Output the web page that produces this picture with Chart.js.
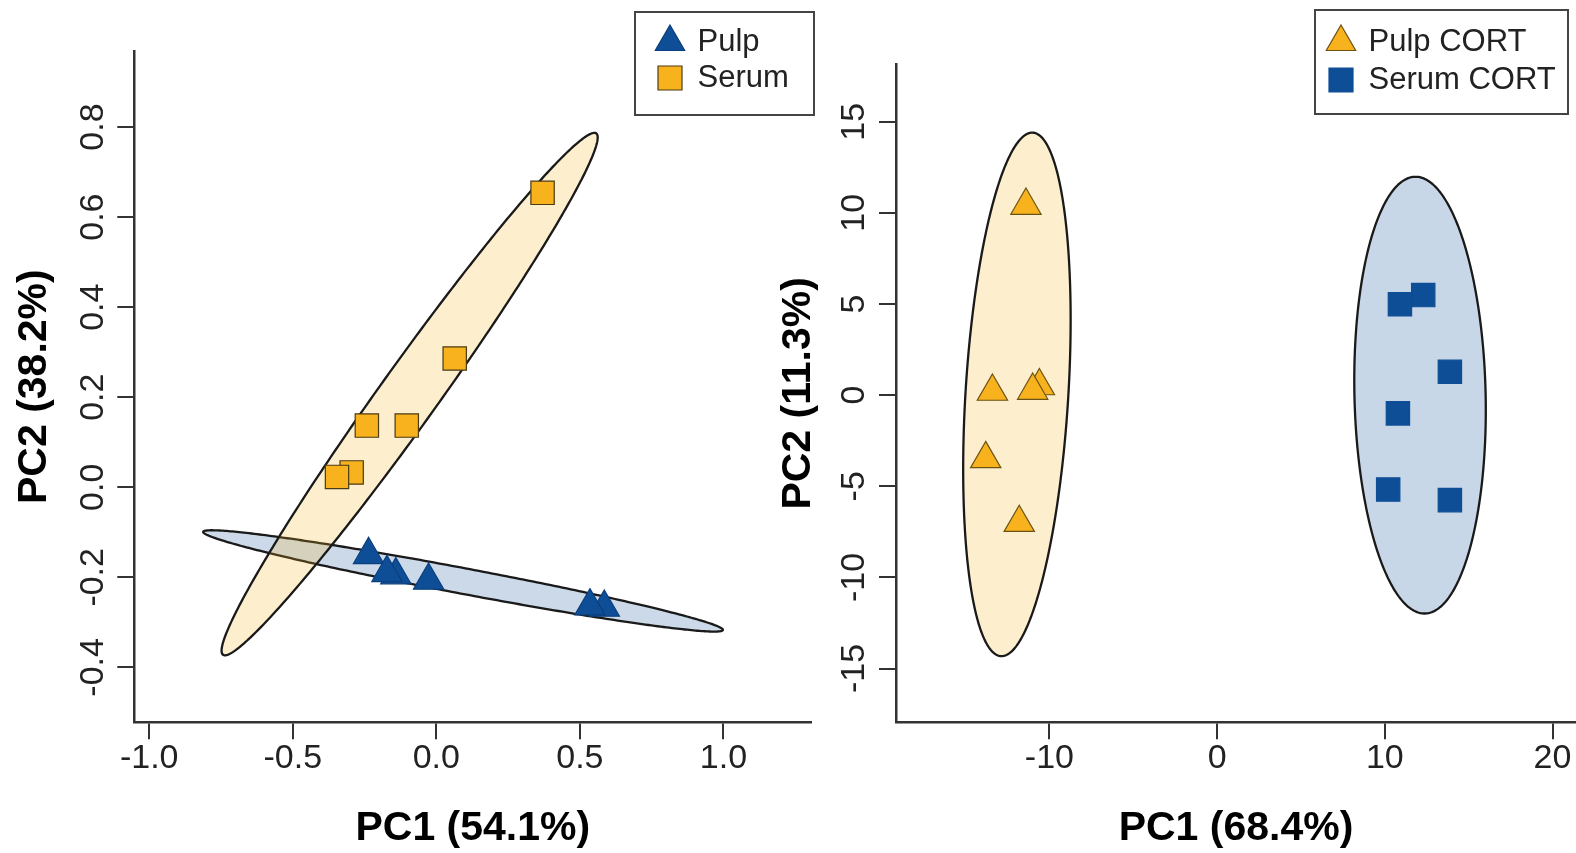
<!DOCTYPE html>
<html>
<head>
<meta charset="utf-8">
<script src="https://cdn.jsdelivr.net/npm/chart.js@4/dist/chart.umd.min.js"></script>
<style>
  html, body { margin: 0; padding: 0; background: #ffffff; overflow: hidden; }
  #wrap { position: relative; width: 1576px; height: 853px; overflow: hidden; background: #ffffff; }
  #c1 { position: absolute; left: 0; top: 0; }
  #c2 { position: absolute; left: 770px; top: 0; }
</style>
</head>
<body>
<div id="wrap">
  <canvas id="c1" width="830" height="853"></canvas>
  <canvas id="c2" width="850" height="853"></canvas>
</div>
<script>
// ---------------- DATA (left panel) ----------------
const leftSeriesNames = ['Pulp', 'Serum'];
const leftPulpX  = [-0.236, -0.141, -0.172, -0.027, 0.585, 0.535];
const leftPulpY  = [-0.150, -0.195, -0.190, -0.207, -0.267, -0.264];
const leftSerumX = [0.370, 0.064, -0.103, -0.242, -0.295, -0.346];
const leftSerumY = [0.654, 0.286, 0.137, 0.137, 0.033, 0.023];
const leftXTicks = [-1.0, -0.5, 0.0, 0.5, 1.0];
const leftXTickLabels = ['-1.0', '-0.5', '0.0', '0.5', '1.0'];
const leftYTicks = [-0.4, -0.2, 0.0, 0.2, 0.4, 0.6, 0.8];
const leftYTickLabels = ['-0.4', '-0.2', '0.0', '0.2', '0.4', '0.6', '0.8'];
const leftXTitle = 'PC1 (54.1%)';
const leftYTitle = 'PC2 (38.2%)';
// ellipses: [Pulp, Serum] centre and two conjugate semi-axes in data units
const leftEllipseCX = [0.093, -0.093];
const leftEllipseCY = [-0.208, 0.207];
const leftEllipseAxis1 = [[0.905, -0.109], [0.650, 0.579]];
const leftEllipseAxis2 = [[-0.008, -0.028], [0.081, -0.038]];

// ---------------- DATA (right panel) ----------------
const rightSeriesNames = ['Pulp CORT', 'Serum CORT'];
const rightPulpX  = [-11.4, -13.4, -10.6, -11.0, -13.8, -11.8];
const rightPulpY  = [10.4, 0.2, 0.5, 0.25, -3.5, -7.0];
const rightSerumX = [12.29, 10.90, 13.88, 10.78, 10.20, 13.88];
const rightSerumY = [5.49, 4.99, 1.28, -1.00, -5.18, -5.76];
const rightXTicks = [-10, 0, 10, 20];
const rightXTickLabels = ['-10', '0', '10', '20'];
const rightYTicks = [-15, -10, -5, 0, 5, 10, 15];
const rightYTickLabels = ['-15', '-10', '-5', '0', '5', '10', '15'];
const rightXTitle = 'PC1 (68.4%)';
const rightYTitle = 'PC2 (11.3%)';
// ellipses: [Serum CORT, Pulp CORT]
const rightEllipseCX = [12.1, -11.94];
const rightEllipseCY = [0.0, 0.04];
const rightEllipseAxis1 = [[-0.30, 11.98], [0.95, 14.36]];
const rightEllipseAxis2 = [[3.91, 0.10], [3.06, -0.17]];

// ---------------- STYLE ----------------
const FONT = "'Liberation Sans', Arial, Helvetica, sans-serif";
const ORANGE = '#F7B21E';
const BLUE = '#0E4E96';
const AXIS = '#333333';

function pts(xs, ys) { return xs.map((x, i) => ({ x: x, y: ys[i] })); }

function ellipsePlugin(cx, cy, a1, a2, fills) {
  return {
    id: 'ellipses',
    beforeDatasetsDraw(chart) {
      const xs = chart.scales.x, ys = chart.scales.y, ctx = chart.ctx;
      for (let i = 0; i < cx.length; i++) {
        const px = xs.getPixelForValue(cx[i]), py = ys.getPixelForValue(cy[i]);
        const ux = xs.getPixelForValue(cx[i] + a1[i][0]) - px;
        const uy = ys.getPixelForValue(cy[i] + a1[i][1]) - py;
        const vx = xs.getPixelForValue(cx[i] + a2[i][0]) - px;
        const vy = ys.getPixelForValue(cy[i] + a2[i][1]) - py;
        ctx.save();
        ctx.beginPath();
        const N = 360;
        for (let k = 0; k <= N; k++) {
          const t = k / N * Math.PI * 2;
          const x = px + Math.cos(t) * ux + Math.sin(t) * vx;
          const y = py + Math.cos(t) * uy + Math.sin(t) * vy;
          if (k === 0) ctx.moveTo(x, y); else ctx.lineTo(x, y);
        }
        ctx.closePath();
        ctx.fillStyle = fills[i];
        ctx.fill();
        ctx.lineWidth = 2.3;
        ctx.strokeStyle = '#1a1a1a';
        ctx.stroke();
        ctx.restore();
      }
    }
  };
}

function legendPlugin(lx, ly, box) {
  return {
    id: 'legendPlace',
    afterLayout(chart) {
      const lg = chart.legend;
      if (!lg) return;
      const w = lg.width;
      lg.left = lx; lg.top = ly; lg.right = lx + w; lg.bottom = ly + 300;
    },
    afterDraw(chart) {
      const ctx = chart.ctx;
      ctx.save();
      ctx.strokeStyle = '#444444';
      ctx.lineWidth = 2;
      ctx.strokeRect(box[0], box[1], box[2] - box[0], box[3] - box[1]);
      ctx.restore();
    }
  };
}

function xScale(min, max, ticks, labels, title) {
  return {
    type: 'linear', position: 'bottom', min: min, max: max,
    afterBuildTicks: s => { s.ticks = ticks.map(v => ({ value: v })); },
    afterFit: s => { s.height = 130.7; },
    grid: { display: true, drawOnChartArea: false, drawTicks: true, tickLength: 17, color: AXIS, lineWidth: 2 },
    border: { display: true, color: AXIS, width: 2.5 },
    ticks: {
      autoSkip: false, maxRotation: 0, minRotation: 0, padding: -1, color: '#222222',
      font: { family: FONT, size: 34 },
      callback: (v, i) => labels[i]
    },
    title: { display: true, text: title, color: '#000000', padding: { top: 0, bottom: 0 },
             font: { family: FONT, size: 41, weight: 'bold', lineHeight: 1.2 } }
  };
}

function yScale(min, max, ticks, labels, title, width, tickPad, titlePad) {
  return {
    type: 'linear', position: 'left', min: min, max: max,
    afterBuildTicks: s => { s.ticks = ticks.map(v => ({ value: v })); },
    afterFit: s => { s.width = width; },
    grid: { display: true, drawOnChartArea: false, drawTicks: true, tickLength: 17, color: AXIS, lineWidth: 2 },
    border: { display: true, color: AXIS, width: 2.5 },
    ticks: {
      autoSkip: false, minRotation: 90, maxRotation: 90, crossAlign: 'center', padding: tickPad, color: '#222222',
      font: { family: FONT, size: 34 },
      callback: (v, i) => labels[i]
    },
    title: { display: true, text: title, color: '#000000', padding: { top: titlePad, bottom: 0 },
             font: { family: FONT, size: 41, weight: 'bold', lineHeight: 1.2 } }
  };
}

function legendOpts(pad) {
  return {
    display: true, position: 'chartArea', align: 'start',
    labels: {
      usePointStyle: true, boxWidth: 24, boxHeight: 24, padding: pad, color: '#222222',
      font: { family: FONT, size: 31 }
    }
  };
}

// ---------------- LEFT CHART ----------------
new Chart(document.getElementById('c1'), {
  type: 'scatter',
  data: {
    datasets: [
      { label: leftSeriesNames[0], data: pts(leftPulpX, leftPulpY), pointStyle: 'triangle',
        pointRadius: 17.5, pointHoverRadius: 17.5, backgroundColor: BLUE, borderColor: '#0A3E7C', borderWidth: 1.2, clip: false },
      { label: leftSeriesNames[1], data: pts(leftSerumX, leftSerumY), pointStyle: 'rect',
        pointRadius: 16.5, pointHoverRadius: 16.5, backgroundColor: ORANGE, borderColor: '#4a3b14', borderWidth: 1.2, clip: false }
    ]
  },
  options: {
    responsive: false, animation: false,
    layout: { padding: { left: 0, top: 51, right: 13.2, bottom: 0 } },
    scales: {
      x: xScale(-1.052, 1.306, leftXTicks, leftXTickLabels, leftXTitle),
      y: yScale(-0.522, 0.969, leftYTicks, leftYTickLabels, leftYTitle, 134.3, -5.3, 10.4)
    },
    plugins: { legend: legendOpts(5), tooltip: { enabled: false } }
  },
  plugins: [
    ellipsePlugin(leftEllipseCX, leftEllipseCY, leftEllipseAxis1, leftEllipseAxis2,
                  ['rgba(17,83,154,0.22)', 'rgba(245,178,27,0.22)']),
    legendPlugin(653, 21.5, [635, 12, 814, 115])
  ]
});

// ---------------- RIGHT CHART ----------------
new Chart(document.getElementById('c2'), {
  type: 'scatter',
  data: {
    datasets: [
      { label: rightSeriesNames[0], data: pts(rightPulpX, rightPulpY), pointStyle: 'triangle',
        pointRadius: 17.5, pointHoverRadius: 17.5, backgroundColor: ORANGE, borderColor: '#6b5314', borderWidth: 1.2, clip: false },
      { label: rightSeriesNames[1], data: pts(rightSerumX, rightSerumY), pointStyle: 'rect',
        pointRadius: 16.5, pointHoverRadius: 16.5, backgroundColor: BLUE, borderColor: BLUE, borderWidth: 1.2, clip: false }
    ]
  },
  options: {
    responsive: false, animation: false,
    layout: { padding: { left: 0, top: 64.5, right: 44, bottom: 0 } },
    scales: {
      x: xScale(-19.15, 21.4, rightXTicks, rightXTickLabels, rightXTitle),
      y: yScale(-17.95, 18.14, rightYTicks, rightYTickLabels, rightYTitle, 126, -0.6, 4.4)
    },
    plugins: { legend: legendOpts(7), tooltip: { enabled: false } }
  },
  plugins: [
    ellipsePlugin(rightEllipseCX, rightEllipseCY, rightEllipseAxis1, rightEllipseAxis2,
                  ['rgba(17,83,154,0.23)', 'rgba(245,178,27,0.22)']),
    legendPlugin(552, 19.5, [545, 10, 798, 114])
  ]
});
</script>
</body>
</html>
